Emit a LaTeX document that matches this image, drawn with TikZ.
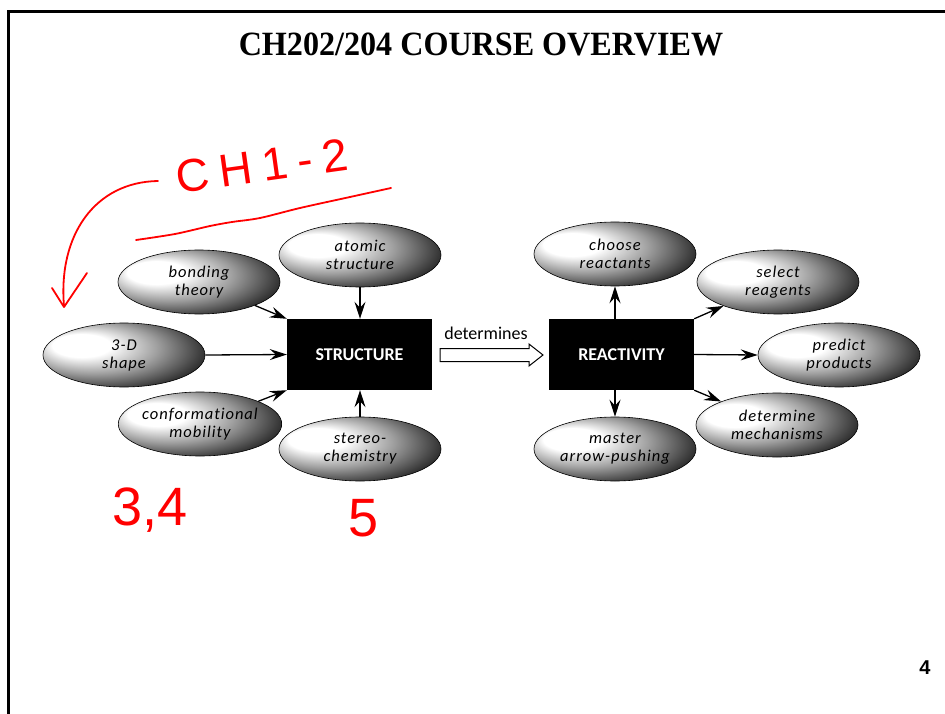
\documentclass[tikz,border=0pt]{standalone}
\usepackage{fontspec}
\setmainfont{Liberation Serif}
\newfontfamily\carl{Carlito}
\newfontfamily\carlsp[LetterSpace=6,Ligatures=NoCommon]{Carlito}
\newfontfamily\hand[LetterSpace=22]{Liberation Sans}
\newfontfamily\handb{Liberation Sans}
\newfontfamily\arialf{Liberation Sans}
\usetikzlibrary{arrows.meta,shapes.geometric}
\pgfdeclareradialshading{eball}{\pgfpoint{-16bp}{9bp}}{color(0bp)=(white); color(9bp)=(white); color(20bp)=(black!38); color(31bp)=(black!80); color(40bp)=(black); color(50bp)=(black)}
\tikzset{
  oval/.style={ellipse, draw=black, line width=0.6pt, shading=eball, minimum width=162pt, minimum height=64pt, inner sep=0pt, align=center, font=\carlsp\itshape\fontsize{16.5}{18}\selectfont},
  bigbox/.style={rectangle, fill=black, minimum width=145pt, minimum height=71pt, inner sep=0pt, text=white, font=\carl\bfseries\fontsize{18}{20}\selectfont},
  arr/.style={line width=1.3pt, -{Stealth[length=17pt,width=11pt,inset=6pt]}},
  redink/.style={red, line width=1.8pt, line cap=round, line join=round}
}
\begin{document}
\begin{tikzpicture}[x=1pt,y=-1pt]
\useasboundingbox (0,0) rectangle (945,714);
% frame
\draw[line width=3pt] (8,714) -- (8,12) -- (945,12);
% title
\node (title) at (481,44) {\scalebox{0.945}[1]{\fontsize{34}{38}\selectfont\bfseries CH202/204 COURSE OVERVIEW}};
% boxes
\node[bigbox] (S) at (359.5,354.5) {STRUCTURE};
\node[bigbox] (R) at (621.5,354.5) {REACTIVITY};
% determines arrow
\draw[line width=1pt] (440,348.5) -- (529,348.5) -- (529,344) -- (543,355) -- (529,366) -- (529,361.5) -- (440,361.5) -- cycle;
\node[font=\carl\fontsize{18}{20}\selectfont] (det) at (486,333) {determines};
% left ovals
\node[oval] (bond) at (199,282) {bonding\\theory};
\node[oval] (atom) at (360,255) {atomic\\structure};
\node[oval] (shape) at (124,355) {3-D\\shape};
\node[oval] (conf) at (200,424) {conformational\\mobility};
\node[oval] (stereo) at (360,449) {stereo-\\chemistry};
% right ovals
\node[oval] (choose) at (615,254) {choose\\reactants};
\node[oval] (select) at (778,282) {select\\reagents};
\node[oval] (predict) at (839,355) {predict\\products};
\node[oval] (mech) at (777,425) {determine\\mechanisms};
\node[oval] (master) at (615,449) {master\\arrow-pushing};
% arrows into STRUCTURE
\draw[arr] (bond) -- (S.north west);
\draw[arr] (atom.south) -- (atom.south |- S.north);
\draw[arr] (shape.east) -- (S.west);
\draw[arr] (conf) -- (S.south west);
\draw[arr] (stereo.north) -- (stereo.north |- S.south);
% arrows out of REACTIVITY
\draw[arr] (R.north -| choose.south) -- (choose.south);
\draw[arr] (R.north east) -- (select);
\draw[arr] (R.east) -- (predict.west);
\draw[arr] (R.south east) -- (mech);
\draw[arr] (R.south -| master.north) -- (master.north);
% page number
\node[font=\arialf\bfseries\fontsize{20}{22}\selectfont] (pg) at (925,668) {4};
% red handwriting
\node[red, rotate=8, font=\hand\fontsize{46}{50}\selectfont] (ch) at (262,166) {CH1-2};
\draw[redink] plot[smooth] coordinates {(136,240) (175,234) (210,226) (232,222) (260,218) (300,208) (350,197) (391,188)};
\draw[redink] (158,181) .. controls (95,182) and (58,235) .. (64,306);
\draw[redink] (52,288) -- (64,307) -- (87,273);
\node[red, font=\handb\fontsize{54}{60}\selectfont] (n34) at (150,510) {3,4};
\node[red, font=\handb\fontsize{54}{60}\selectfont] (n5) at (364,518) {5};
\end{tikzpicture}
\end{document}
